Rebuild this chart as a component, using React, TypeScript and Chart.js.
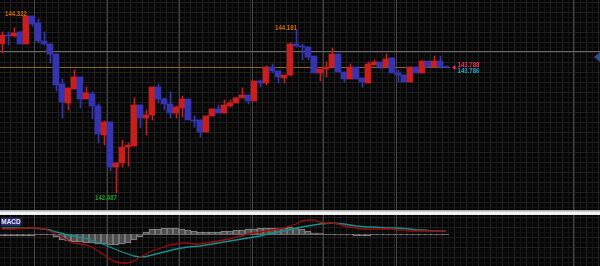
import React, { useEffect, useRef } from "react";
import { Chart, registerables } from "chart.js";
Chart.register(...registerables);

// ---- price data (one candle per index) ----
const opens = [
  144.032, 144.125, 144.115, 144.156, 144.032, 144.322, 144.249, 144.063, 144.032, 143.928,
  143.617, 143.420, 143.565, 143.690, 143.461, 143.513, 143.389, 143.088, 143.223, 142.756,
  142.798, 142.963, 142.974, 143.399, 143.264, 143.295, 143.586, 143.461, 143.410, 143.316,
  143.368, 143.461, 143.244, 143.244, 143.119, 143.285, 143.358, 143.316, 143.389, 143.420,
  143.472, 143.503, 143.441, 143.648, 143.627, 143.793, 143.752, 143.679, 143.710, 144.032,
  144.011, 144.001, 143.907, 143.731, 143.772, 143.793, 143.928, 143.741, 143.669, 143.793,
  143.679, 143.627, 143.814, 143.845, 143.793, 143.887, 143.731, 143.710, 143.638, 143.793,
  143.731, 143.855, 143.793, 143.855, 143.793,
];
const highs = [
  144.156, 144.156, 144.198, 144.167, 144.322, 144.322, 144.291, 144.156, 144.032, 143.928,
  143.669, 143.575, 143.762, 143.690, 143.586, 143.534, 143.410, 143.233, 143.223, 142.798,
  143.036, 143.005, 143.472, 143.399, 143.347, 143.586, 143.617, 143.472, 143.534, 143.389,
  143.492, 143.461, 143.285, 143.244, 143.285, 143.358, 143.399, 143.451, 143.451, 143.482,
  143.575, 143.503, 143.648, 143.658, 143.804, 143.824, 143.752, 143.710, 144.042, 144.181,
  144.032, 144.001, 143.907, 143.772, 143.845, 143.990, 143.928, 143.741, 143.824, 143.793,
  143.679, 143.845, 143.866, 143.845, 143.928, 143.887, 143.762, 143.710, 143.793, 143.793,
  143.855, 143.855, 143.907, 143.907, 143.804,
];
const lows = [
  143.938, 144.021, 144.104, 144.032, 144.032, 144.218, 144.042, 144.021, 143.835, 143.544,
  143.264, 143.347, 143.565, 143.368, 143.461, 143.254, 143.005, 142.984, 142.715, 142.487,
  142.756, 142.767, 142.974, 143.161, 143.088, 143.244, 143.420, 143.347, 143.264, 143.264,
  143.275, 143.244, 143.171, 143.067, 143.119, 143.285, 143.316, 143.316, 143.378, 143.420,
  143.472, 143.410, 143.441, 143.586, 143.607, 143.731, 143.627, 143.627, 143.700, 144.001,
  143.866, 143.866, 143.731, 143.648, 143.690, 143.793, 143.741, 143.638, 143.669, 143.669,
  143.586, 143.627, 143.814, 143.772, 143.793, 143.731, 143.638, 143.638, 143.638, 143.731,
  143.731, 143.793, 143.793, 143.783, 143.783,
];
const closes = [
  144.125, 144.115, 144.146, 144.032, 144.322, 144.239, 144.063, 144.032, 143.928, 143.607,
  143.430, 143.575, 143.690, 143.461, 143.524, 143.389, 143.098, 143.223, 142.756, 142.798,
  142.963, 142.984, 143.399, 143.264, 143.295, 143.586, 143.461, 143.410, 143.316, 143.378,
  143.461, 143.244, 143.233, 143.119, 143.285, 143.358, 143.316, 143.399, 143.420, 143.472,
  143.503, 143.441, 143.648, 143.627, 143.793, 143.752, 143.690, 143.710, 144.032, 144.011,
  144.001, 143.897, 143.731, 143.772, 143.793, 143.928, 143.741, 143.669, 143.793, 143.669,
  143.638, 143.824, 143.845, 143.793, 143.876, 143.731, 143.710, 143.638, 143.793, 143.731,
  143.855, 143.793, 143.855, 143.793, 143.788,
];

// ---- MACD panel data ----
const macdHist = [
  -0.02, -0.02, -0.02, -0.02, -0.02, -0.02, -0.01, 0.0, -0.01, -0.03,
  -0.06, -0.07, -0.08, -0.08, -0.09, -0.09, -0.1, -0.1, -0.11, -0.11,
  -0.1, -0.09, -0.06, -0.03, 0.02, 0.05, 0.05, 0.06, 0.06, 0.06,
  0.05, 0.04, 0.03, 0.02, 0.02, 0.02, 0.02, 0.03, 0.03, 0.04,
  0.04, 0.05, 0.05, 0.06, 0.06, 0.06, 0.06, 0.06, 0.07, 0.06,
  0.05, 0.03, 0.01, 0.01, 0.0, 0.0, -0.01, -0.01, -0.01, -0.02,
  -0.02, -0.02, -0.01, -0.01, -0.01, -0.01, -0.01, -0.01, -0.01, -0.01,
  -0.01, -0.01, -0.01, -0.01, 0.0,
];
const macdRed = [
  0.05, 0.05, 0.05, 0.055, 0.06, 0.06, 0.06, 0.05, 0.03, 0.0,
  -0.03, -0.07, -0.09, -0.1, -0.11, -0.13, -0.17, -0.21, -0.25, -0.28,
  -0.29, -0.29, -0.27, -0.23, -0.2, -0.17, -0.15, -0.13, -0.11, -0.1,
  -0.09, -0.09, -0.1, -0.1, -0.09, -0.08, -0.07, -0.06, -0.05, -0.03,
  -0.02, 0.0, 0.01, 0.02, 0.03, 0.04, 0.05, 0.06, 0.08, 0.1,
  0.13, 0.14, 0.14, 0.12, 0.11, 0.11, 0.1, 0.08, 0.07, 0.06,
  0.05, 0.05, 0.05, 0.05, 0.05, 0.05, 0.04, 0.04, 0.03, 0.03,
  0.03, 0.03, 0.03, 0.03, 0.03,
];
const macdTeal = [
  0.06, 0.06, 0.06, 0.06, 0.06, 0.06, 0.055, 0.05, 0.04, 0.02,
  0.005, -0.01, -0.02, -0.035, -0.045, -0.065, -0.085, -0.105, -0.13, -0.155,
  -0.18, -0.2, -0.22, -0.23, -0.225, -0.21, -0.195, -0.18, -0.165, -0.15,
  -0.14, -0.13, -0.125, -0.12, -0.11, -0.1, -0.09, -0.08, -0.07, -0.06,
  -0.05, -0.04, -0.03, -0.02, -0.005, 0.01, 0.02, 0.03, 0.045, 0.06,
  0.07, 0.08, 0.09, 0.1, 0.105, 0.11, 0.105, 0.1, 0.09, 0.08,
  0.075, 0.07, 0.07, 0.065, 0.06, 0.06, 0.06, 0.055, 0.05, 0.04,
  0.04, 0.035, 0.03, 0.03, 0.03,
];

// ---- annotations / levels ----
const markedHighs = [4, 49];
const markedLows = [19];
const sessionBreaks = [5.4, 17.55, 29.55, 41.7, 53.55, 65.7, 95.2];
const bidPrice = 143.788;
const bidLabel = "143.788";
const maLabel = "143.786";
const greyLevel = 143.959;
const markerLevel = 143.897;

const X_MIN = -1 / 3;
const X_MAX = X_MIN + 100;
const WICK_SHIFT = 1 / 12;
const P_MIN = 142.31;
const P_MAX = 144.488;
const M_MIN = -0.32;
const M_MAX = 0.19;

const UP = "#c81e1e";
const DOWN = "#3434b2";
const FONT = "'Liberation Sans', Arial, sans-serif";

function condensedText(ctx: CanvasRenderingContext2D, text: string, x: number, y: number, align: "left" | "right") {
  ctx.save();
  ctx.translate(x, y);
  ctx.scale(0.76, 1);
  ctx.textAlign = align;
  ctx.fillText(text, 0, 0);
  ctx.restore();
}

function drawGrid(chart: any) {
  const { ctx, chartArea: a, scales } = chart;
  const xs = scales.x;
  ctx.save();
  ctx.fillStyle = "#070707";
  ctx.fillRect(a.left, a.top, a.right - a.left, a.bottom - a.top);
  ctx.lineWidth = 1;
  const base = Math.round(xs.getPixelForValue(sessionBreaks[0]));
  const start = ((base % 6) + 6) % 6;
  for (let px = start; px < a.right; px += 6) {
    ctx.strokeStyle = (px - base) % 12 === 0 ? "#232323" : "#151515";
    ctx.beginPath();
    ctx.moveTo(px + 0.5, a.top);
    ctx.lineTo(px + 0.5, a.bottom);
    ctx.stroke();
  }
  for (let py = a.top + 2, k = 0; py < a.bottom; py += 5, k++) {
    ctx.strokeStyle = k % 2 === 0 ? "#1f1f1f" : "#131313";
    ctx.beginPath();
    ctx.moveTo(a.left, py + 0.5);
    ctx.lineTo(a.right, py + 0.5);
    ctx.stroke();
  }
  ctx.strokeStyle = "#444444";
  sessionBreaks.forEach((v) => {
    const px = Math.round(xs.getPixelForValue(v)) + 0.5;
    ctx.beginPath();
    ctx.moveTo(px, a.top);
    ctx.lineTo(px, a.bottom);
    ctx.stroke();
  });
  ctx.restore();
}

const mainPlugin = {
  id: "mainDeco",
  beforeDatasetsDraw(chart: any) {
    drawGrid(chart);
    const { ctx, chartArea: a, scales } = chart;
    const xs = scales.x;
    const ys = scales.y;
    ctx.save();
    ctx.lineWidth = 1;
    const gy = Math.round(ys.getPixelForValue(greyLevel)) + 0.5;
    ctx.strokeStyle = "#6a6a6a";
    ctx.beginPath();
    ctx.moveTo(a.left, gy);
    ctx.lineTo(a.right, gy);
    ctx.stroke();
    const by = Math.round(ys.getPixelForValue(bidPrice)) + 0.5;
    const lastX = xs.getPixelForValue(closes.length - 1) + 4;
    ctx.strokeStyle = "#8a6420";
    ctx.beginPath();
    ctx.moveTo(a.left, by);
    ctx.lineTo(lastX, by);
    ctx.stroke();
    ctx.restore();
  },
  afterDatasetsDraw(chart: any) {
    const { ctx, chartArea: a, scales } = chart;
    const xs = scales.x;
    const ys = scales.y;
    ctx.save();
    ctx.font = `bold 8px ${FONT}`;
    ctx.textBaseline = "alphabetic";
    ctx.fillStyle = "#d06a0c";
    markedHighs.forEach((i) => {
      condensedText(ctx, highs[i].toFixed(3), xs.getPixelForValue(i) + 1, ys.getPixelForValue(highs[i]), "right");
    });
    ctx.fillStyle = "#22a622";
    markedLows.forEach((i) => {
      condensedText(ctx, lows[i].toFixed(3), xs.getPixelForValue(i) + 1, ys.getPixelForValue(lows[i]) + 7.5, "right");
    });
    // right-side price labels
    const lastX = xs.getPixelForValue(closes.length - 1);
    const by = ys.getPixelForValue(bidPrice);
    ctx.fillStyle = "#e8345e";
    ctx.beginPath();
    ctx.moveTo(lastX + 6, by);
    ctx.lineTo(lastX + 9.5, by - 2.5);
    ctx.lineTo(lastX + 9.5, by + 2.5);
    ctx.closePath();
    ctx.fill();
    condensedText(ctx, bidLabel, lastX + 11.5, by - 0.5, "left");
    ctx.fillStyle = "#1ea6cc";
    condensedText(ctx, maLabel, lastX + 11.5, by + 5.2, "left");
    // diamond marker at right edge
    const my = ys.getPixelForValue(markerLevel);
    ctx.fillStyle = "#2f4f8c";
    ctx.beginPath();
    ctx.moveTo(a.right - 6, my);
    ctx.lineTo(a.right, my - 5);
    ctx.lineTo(a.right + 6, my);
    ctx.lineTo(a.right, my + 5);
    ctx.closePath();
    ctx.fill();
    ctx.restore();
  },
};

const macdPlugin = {
  id: "macdDeco",
  beforeDatasetsDraw(chart: any) {
    drawGrid(chart);
    const { ctx, chartArea: a, scales } = chart;
    const xs = scales.x;
    const ys = scales.y;
    ctx.save();
    const zy = Math.round(ys.getPixelForValue(0)) + 0.5;
    ctx.strokeStyle = "#6a6a6a";
    ctx.lineWidth = 1;
    ctx.beginPath();
    ctx.moveTo(a.left, zy);
    ctx.lineTo(xs.getPixelForValue(macdHist.length - 1) + 3, zy);
    ctx.stroke();
    ctx.restore();
  },
};

const xScale = {
  type: "linear" as const,
  min: X_MIN,
  max: X_MAX,
  offset: false,
  display: false,
  grid: { offset: false },
};
const xWickScale = {
  ...xScale,
  min: X_MIN - WICK_SHIFT,
  max: X_MAX - WICK_SHIFT,
};

function MainChart() {
  const ref = useRef<HTMLCanvasElement>(null);
  useEffect(() => {
    const colors = closes.map((c, i) => (c >= opens[i] ? UP : DOWN));
    const chart = new Chart(ref.current!, {
      type: "bar",
      data: {
        datasets: [
          {
            data: opens.map((o, i) => ({ x: i, y: [o, closes[i]] })) as any,
            backgroundColor: colors,
            barThickness: 6,
            minBarLength: 1,
            grouped: false,
            order: 0,
          },
          {
            data: lows.map((l, i) => ({ x: i, y: [l, highs[i]] })) as any,
            xAxisID: "xw",
            backgroundColor: colors,
            barThickness: 1,
            minBarLength: 1,
            grouped: false,
            order: 1,
          } as any,
        ],
      },
      options: {
        animation: false,
        responsive: false,
        maintainAspectRatio: false,
        events: [],
        layout: { padding: 0 },
        plugins: { legend: { display: false }, tooltip: { enabled: false } },
        scales: {
          x: xScale as any,
          xw: xWickScale as any,
          y: { type: "linear", min: P_MIN, max: P_MAX, display: false },
        },
      },
      plugins: [mainPlugin],
    });
    return () => chart.destroy();
  }, []);
  return <canvas ref={ref} width={600} height={210} style={{ display: "block" }} />;
}

function MacdChart() {
  const ref = useRef<HTMLCanvasElement>(null);
  useEffect(() => {
    const chart = new Chart(ref.current!, {
      type: "bar",
      data: {
        datasets: [
          {
            type: "line",
            data: macdRed.map((v, i) => ({ x: i, y: v })) as any,
            borderColor: "#9b0c0c",
            borderWidth: 1.3,
            pointRadius: 0,
            order: 0,
          } as any,
          {
            type: "line",
            data: macdTeal.map((v, i) => ({ x: i, y: v })) as any,
            borderColor: "#168f8d",
            borderWidth: 1.3,
            pointRadius: 0,
            order: 1,
          } as any,
          {
            type: "bar",
            data: macdHist.map((v, i) => ({ x: i, y: v })) as any,
            backgroundColor: "#4e4e4e",
            borderColor: "#8a8a8a",
            borderWidth: 1,
            barThickness: 6,
            grouped: false,
            order: 2,
          },
        ],
      },
      options: {
        animation: false,
        responsive: false,
        maintainAspectRatio: false,
        events: [],
        layout: { padding: 0 },
        plugins: { legend: { display: false }, tooltip: { enabled: false } },
        scales: {
          x: xScale as any,
          y: { type: "linear", min: M_MIN, max: M_MAX, display: false },
        },
      },
      plugins: [macdPlugin],
    });
    return () => chart.destroy();
  }, []);
  return <canvas ref={ref} width={600} height={51} style={{ display: "block" }} />;
}

export default function App() {
  return (
    <div
      style={{
        position: "fixed",
        left: 0,
        top: 0,
        width: 600,
        height: 266,
        background: "#000",
        overflow: "hidden",
      }}
    >
      <MainChart />
      <div
        style={{
          height: 5,
          background: "linear-gradient(#9a9a9a, #d0d0d0 30%, #ffffff 60%, #e0e0e0)",
        }}
      />
      <MacdChart />
      <div
        style={{
          position: "absolute",
          left: 1,
          top: 218,
          width: 20,
          height: 8,
          background: "#2d2d6e",
          color: "#e6e6ff",
          fontFamily: FONT,
          fontWeight: "bold",
          fontSize: "6.5px",
          lineHeight: "8px",
          textAlign: "center",
        }}
      >
        MACD
      </div>
    </div>
  );
}
